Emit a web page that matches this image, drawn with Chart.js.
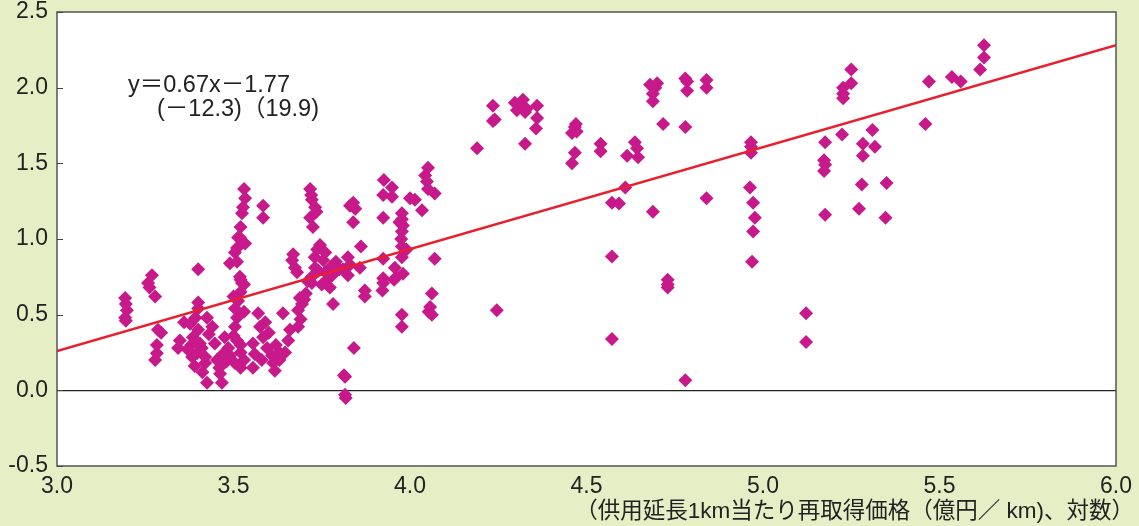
<!DOCTYPE html>
<html>
<head>
<meta charset="utf-8">
<script src="https://cdn.jsdelivr.net/npm/chart.js@4/dist/chart.umd.min.js"></script>
<style>
html,body{margin:0;padding:0;background:#E6EEC6;}
#wrap{width:1139px;height:526px;}
</style>
</head>
<body>
<div id="wrap"><canvas id="c" width="1139" height="526"></canvas></div>
<script>
// x: 供用延長1km当たり再取得価格（億円／km、対数）, y: value
const pointX = [
3.193,3.195,3.198,3.193,3.195,
3.269,3.258,3.262,3.278,3.286,3.295,3.283,3.283,3.278,3.348,3.343,
3.40,3.40,3.40,3.392,3.377,3.40,3.425,3.385,3.405,3.397,3.383,3.42,3.412,3.425,3.467,3.462,3.453,3.47,3.447,3.44,3.475,3.485,3.504,3.51,3.504,3.513,3.50,3.504,3.49,3.51,3.513,
3.37,3.38,3.41,3.43,3.36,3.42,3.39,3.46,3.48,3.49,3.52,3.52,3.50,3.52,3.53,3.52,3.53,3.51,3.53,3.52,
3.533,3.527,3.524,3.584,3.584,3.518,3.533,3.504,3.51,3.518,3.524,3.53,3.52,
3.57,3.575,3.584,3.555,3.595,3.609,3.612,3.555,3.617,3.59,3.56,3.58,3.60,3.62,3.63,3.64,3.63,
3.683,3.66,3.655,3.646,3.669,3.666,3.674,3.68,3.688,3.694,3.683,3.70,3.705,3.69,
3.717,3.722,3.731,3.717,3.725,3.745,3.737,3.754,3.773,3.731,3.722,3.722,3.765,3.773,3.79,3.782,3.73,3.76,3.78,3.75,3.74,3.76,3.80,3.71,3.735,3.72,
3.824,3.83,3.858,3.824,3.861,3.839,3.845,3.839,3.83,3.841,3.816,3.816,3.818,3.813,3.872,3.872,3.81,
3.926,3.949,3.924,3.949,3.924,4.0,4.014,3.977,3.977,3.98,3.977,3.975,3.977,3.977,3.957,3.98,3.962,3.955,3.924,3.922,3.924,3.924,3.977,3.977,4.034,4.051,4.043,4.048,4.051,4.07,4.07,4.062,4.057,4.062,4.053,3.99,3.97,
4.19,4.235,4.235,4.246,4.297,4.32,4.326,4.303,4.36,4.36,4.357,4.326,4.31,4.33,4.24,
4.467,4.472,4.459,4.467,4.459,4.54,4.54,4.637,4.643,4.615,4.646,4.572,4.572,4.572,4.592,4.61,4.47,
4.688,4.73,4.73,4.73,4.717,4.78,4.78,4.84,4.68,4.688,4.688,4.695,4.785,4.785,4.84,4.84,4.78,4.70,
4.966,4.966,4.963,4.972,4.977,4.972,4.969,4.966,
5.122,5.122,5.176,5.173,5.173,5.176,5.176,5.224,5.227,5.227,5.25,5.25,5.227,5.283,5.283,5.28,5.272,5.31,5.317,5.35,5.347,5.47,5.46,5.535,5.56,5.615,5.626,5.626
];
const pointY = [
0.61,0.57,0.53,0.48,0.46,
0.76,0.71,0.68,0.62,0.40,0.38,0.30,0.245,0.20,0.33,0.28,
0.80,0.58,0.54,0.48,0.44,0.40,0.48,0.35,0.31,0.245,0.22,0.18,0.12,0.05,0.05,0.11,0.20,0.24,0.31,0.42,0.35,0.28,0.42,0.48,0.54,0.59,0.36,0.18,0.84,0.94,1.01,
0.27,0.30,0.28,0.37,0.45,0.22,0.16,0.15,0.19,0.23,0.25,0.30,0.62,0.65,0.70,0.73,0.52,0.33,0.20,0.15,
1.27,1.21,1.17,1.22,1.14,1.01,0.97,0.91,0.85,0.75,0.71,1.33,1.08,
0.51,0.42,0.35,0.31,0.28,0.23,0.18,0.15,0.13,0.45,0.24,0.20,0.38,0.30,0.25,0.51,0.20,
0.42,0.40,0.33,0.25,0.90,0.86,0.81,0.78,0.61,0.57,0.53,0.60,0.64,0.47,
1.33,1.26,1.21,1.14,1.08,0.96,0.93,0.86,0.81,0.81,0.75,0.71,0.73,0.68,0.85,0.57,0.88,0.78,0.76,0.70,0.79,0.91,0.80,0.72,1.18,1.29,
0.88,0.83,0.81,0.76,0.95,1.24,1.20,1.11,1.22,0.28,0.09,-0.03,-0.05,0.10,0.66,0.62,0.80,
1.39,1.34,1.29,1.28,1.14,1.27,1.26,1.17,1.13,1.09,1.05,1.00,0.95,0.88,0.81,0.77,0.75,0.73,0.71,0.66,0.74,0.87,0.50,0.42,1.19,1.47,1.42,1.38,1.33,1.30,0.87,0.64,0.55,0.50,0.52,0.93,1.11,
1.60,1.88,1.78,0.53,1.90,1.92,1.84,1.85,1.88,1.80,1.73,1.63,1.88,1.86,1.79,
1.74,1.71,1.70,1.57,1.50,1.63,1.58,1.64,1.60,1.55,1.54,0.885,0.34,1.24,1.235,1.34,1.76,
1.18,0.73,0.70,0.68,1.76,1.74,0.066,1.27,2.02,1.96,1.91,2.00,2.04,1.98,2.00,2.05,2.06,2.03,
1.64,1.57,1.34,1.24,1.14,1.05,0.85,1.61,
0.51,0.32,1.64,1.52,1.45,1.16,1.49,1.69,2.00,1.93,2.03,2.12,1.96,1.63,1.55,1.36,1.20,1.72,1.61,1.37,1.14,2.04,1.76,2.07,2.04,2.12,2.20,2.28
];
// regression line endpoints: y=0.67x-1.77
const lineX = [3.0, 6.0];
const lineY = [0.26, 2.28];
const xTicks = [3.0, 3.5, 4.0, 4.5, 5.0, 5.5, 6.0];
const yTicks = [-0.5, 0.0, 0.5, 1.0, 1.5, 2.0, 2.5];
const eqText1 = 'y＝0.67x－1.77';
const eqText2 = '(－12.3)（19.9)';
const xTitle = '（供用延長1km当たり再取得価格（億円／ km)、対数）';

const BG = '#E6EEC6';
const NUM_FONT = '"Liberation Sans", Arial, "Noto Sans CJK JP", sans-serif';
const JP_FONT = '"Liberation Sans", "Noto Sans CJK JP", sans-serif';

const scatterData = pointX.map((x, i) => ({x: x, y: pointY[i]}));
const lineData = lineX.map((x, i) => ({x: x, y: lineY[i]}));

const framePlugin = {
  id: 'frame',
  beforeDraw(chart) {
    const ctx = chart.ctx, a = chart.chartArea;
    ctx.save();
    ctx.fillStyle = BG;
    ctx.fillRect(0, 0, chart.width, chart.height);
    ctx.fillStyle = '#FFFFFF';
    ctx.fillRect(a.left, a.top, a.right - a.left, a.bottom - a.top);
    ctx.restore();
  },
  afterDatasetsDraw(chart) {
    const ctx = chart.ctx, a = chart.chartArea;
    const ys = chart.scales.y;
    ctx.save();
    ctx.strokeStyle = '#555555';
    ctx.lineWidth = 1.5;
    ctx.strokeRect(a.left, a.top, a.right - a.left, a.bottom - a.top);
    ctx.lineWidth = 1;
    ctx.strokeStyle = '#444444';
    yTicks.forEach(v => {
      const py = Math.round(ys.getPixelForValue(v)) + 0.5;
      ctx.beginPath();
      ctx.moveTo(a.left, py);
      ctx.lineTo(a.left + 6, py);
      ctx.stroke();
    });
    ctx.fillStyle = '#222222';
    ctx.textBaseline = 'middle';
    ctx.textAlign = 'left';
    ctx.font = '23.5px ' + NUM_FONT;
    ctx.fillText(eqText1, 128, 86);
    ctx.fillText(eqText2, 157, 110);
    ctx.font = '22.5px ' + JP_FONT;
    ctx.textAlign = 'right';
    ctx.fillText(xTitle, 1134, 512);
    ctx.restore();
  }
};

new Chart(document.getElementById('c'), {
  type: 'scatter',
  data: {
    datasets: [
      {
        type: 'line',
        data: lineData,
        borderColor: '#E8202E',
        borderWidth: 2.5,
        pointRadius: 0,
        fill: false,
        order: 0
      },
      {
        data: scatterData,
        pointStyle: 'rectRot',
        pointRadius: 7,
        pointHoverRadius: 7,
        backgroundColor: '#C8198B',
        borderColor: '#C8198B',
        borderWidth: 0,
        order: 1
      }
    ]
  },
  options: {
    responsive: false,
    animation: false,
    events: [],
    layout: {padding: {left: 0, right: 23, top: 12, bottom: 0}},
    plugins: {legend: {display: false}, tooltip: {enabled: false}},
    scales: {
      x: {
        type: 'linear',
        min: 3.0, max: 6.0,
        afterFit(s) { s.height = 60; },
        afterBuildTicks(s) { s.ticks = xTicks.map(v => ({value: v})); },
        border: {display: false},
        grid: {display: false, drawTicks: false},
        ticks: {
          padding: 7,
          color: '#222222',
          font: {size: 23, family: NUM_FONT},
          maxRotation: 0,
          callback: v => v.toFixed(1)
        }
      },
      y: {
        type: 'linear',
        min: -0.5, max: 2.5,
        afterFit(s) { s.width = 57; s.paddingTop = 0; s.paddingBottom = 0; },
        afterBuildTicks(s) { s.ticks = yTicks.map(v => ({value: v})); },
        border: {display: false},
        grid: {
          drawTicks: false,
          color: c => (c.tick && c.tick.value === 0) ? '#222222' : 'rgba(0,0,0,0)',
          lineWidth: 1.2
        },
        ticks: {
          padding: 9,
          color: '#222222',
          font: {size: 23, family: NUM_FONT, lineHeight: 1},
          callback: v => v.toFixed(1)
        }
      }
    }
  },
  plugins: [framePlugin]
});
</script>
</body>
</html>
